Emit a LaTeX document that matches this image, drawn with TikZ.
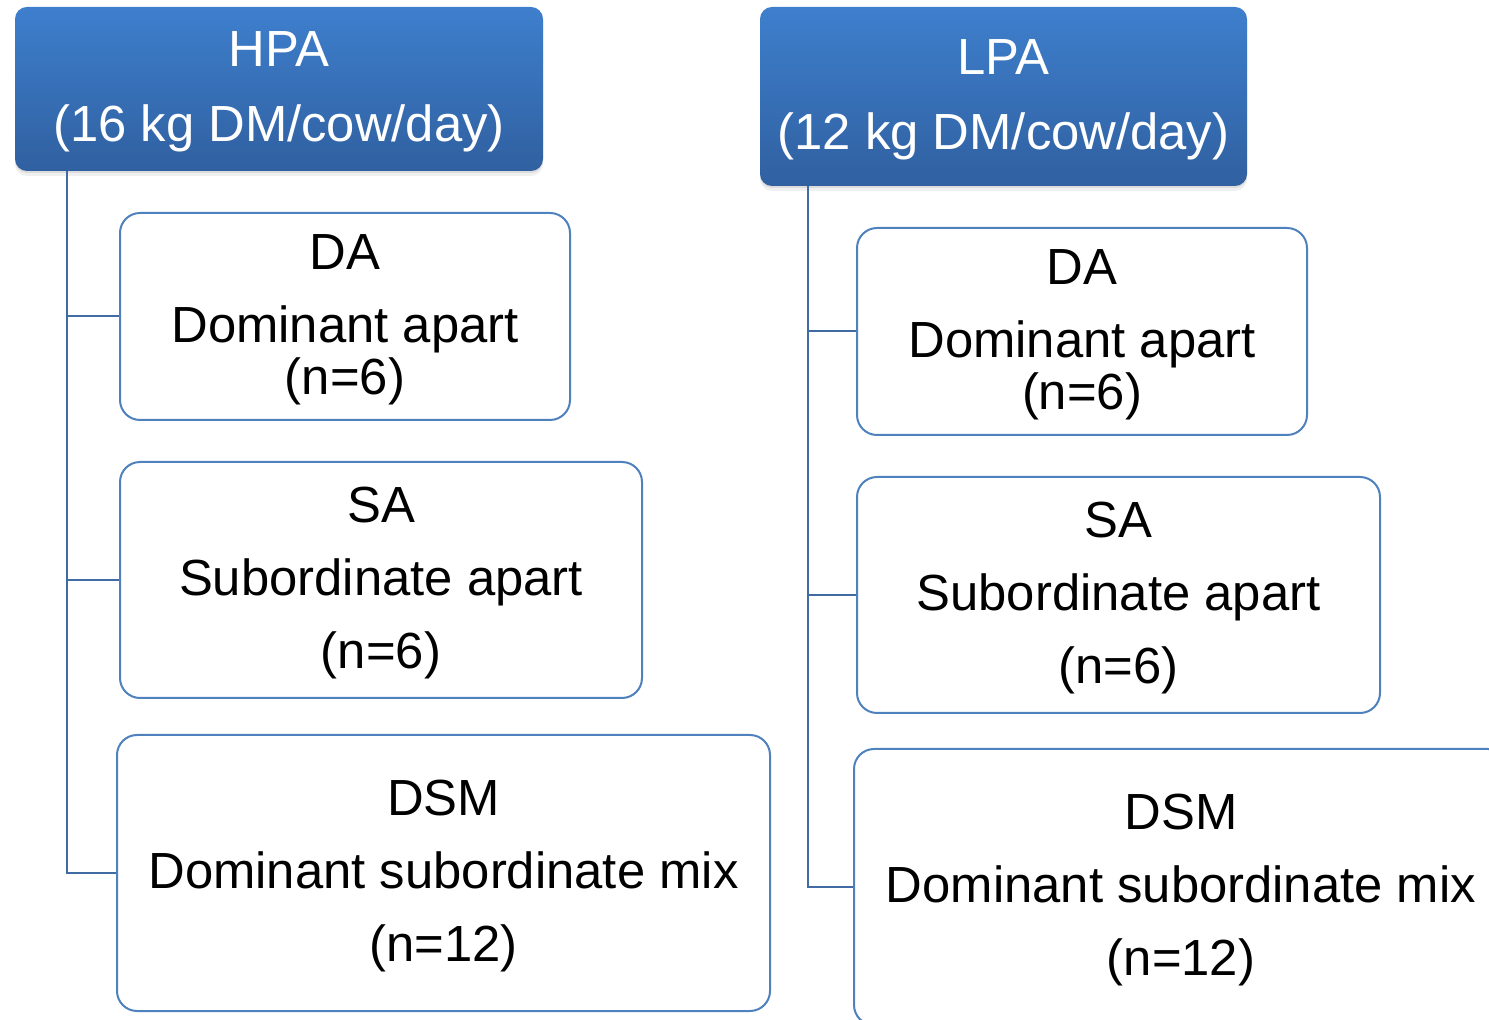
\documentclass[tikz,border=0pt]{standalone}
\usepackage{fontspec}
\setmainfont{Liberation Sans}
\usetikzlibrary{shadows}
\definecolor{hdtop}{HTML}{3E7FCD}
\definecolor{hdbot}{HTML}{3060A0}
\definecolor{bord}{HTML}{4F81BD}
\definecolor{conn}{HTML}{416CA3}
\begin{document}
\begin{tikzpicture}[x=0.5pt,y=-0.5pt,
  hdr/.style={rounded corners=6pt, top color=hdtop, bottom color=hdbot, draw=none,
    inner sep=0pt,
    drop shadow={shadow xshift=0pt, shadow yshift=-1pt, opacity=0.18},
    drop shadow={shadow xshift=0pt, shadow yshift=-2.5pt, opacity=0.12}},
  hdrtxt/.style={text=white, align=center, inner sep=0pt, font=\fontsize{25.4}{37.5}\selectfont},
  grp/.style={rounded corners=10pt, draw=bord, line width=1pt, fill=white, inner sep=0pt},
  grptxt/.style={align=center, inner sep=0pt, font=\fontsize{25.4}{36.5}\selectfont},
  link/.style={draw=conn, line width=1pt}]
\useasboundingbox (0,0) rectangle (1489,1020);
\clip (0,0) rectangle (1489,1020);

% headers
\node[hdr, minimum width=264pt, minimum height=82pt] (hpa) at (279,89) {};
\node[hdrtxt] (hpat) at ([yshift=-1.6pt]hpa.center) {HPA\\(16 kg DM/cow/day)};
\node[hdr, minimum width=243.5pt, minimum height=89.5pt] (lpa) at (1003.5,96.5) {};
\node[hdrtxt] (lpat) at ([yshift=-1.6pt]lpa.center) {LPA\\(12 kg DM/cow/day)};

% left group boxes
\node[grp, minimum width=225pt, minimum height=103.5pt] (dal) at (345,316.5) {};
\node[grptxt] (dalt) at ([yshift=-1.7pt]dal.center) {DA\\Dominant apart\\[-10.5pt](n=6)};
\node[grp, minimum width=261pt, minimum height=118pt] (sal) at (381,580) {};
\node[grptxt] (salt) at ([yshift=-1.7pt]sal.center) {SA\\Subordinate apart\\(n=6)};
\node[grp, minimum width=326.5pt, minimum height=138pt] (dsml) at (443.5,873) {};
\node[grptxt] (dsmlt) at ([yshift=-1.7pt]dsml.center) {DSM\\Dominant subordinate mix\\(n=12)};

% right group boxes
\node[grp, minimum width=225pt, minimum height=103.5pt] (dar) at (1082,331.5) {};
\node[grptxt] (dart) at ([yshift=-1.7pt]dar.center) {DA\\Dominant apart\\[-10.5pt](n=6)};
\node[grp, minimum width=261.5pt, minimum height=118pt] (sar) at (1118.5,595) {};
\node[grptxt] (sart) at ([yshift=-1.7pt]sar.center) {SA\\Subordinate apart\\(n=6)};
\node[grp, minimum width=327pt, minimum height=138pt] (dsmr) at (1181,887) {};
\node[grptxt] (dsmrt) at ([yshift=-1.7pt]dsmr.center) {DSM\\Dominant subordinate mix\\(n=12)};

% connectors
\coordinate (hl) at (67,171);
\coordinate (lr) at (808,186);
\draw[link] (hl) |- (dsml.west);
\draw[link] (hl |- dal.west) -- (dal.west);
\draw[link] (hl |- sal.west) -- (sal.west);
\draw[link] (lr) |- (dsmr.west);
\draw[link] (lr |- dar.west) -- (dar.west);
\draw[link] (lr |- sar.west) -- (sar.west);
\end{tikzpicture}
\end{document}
